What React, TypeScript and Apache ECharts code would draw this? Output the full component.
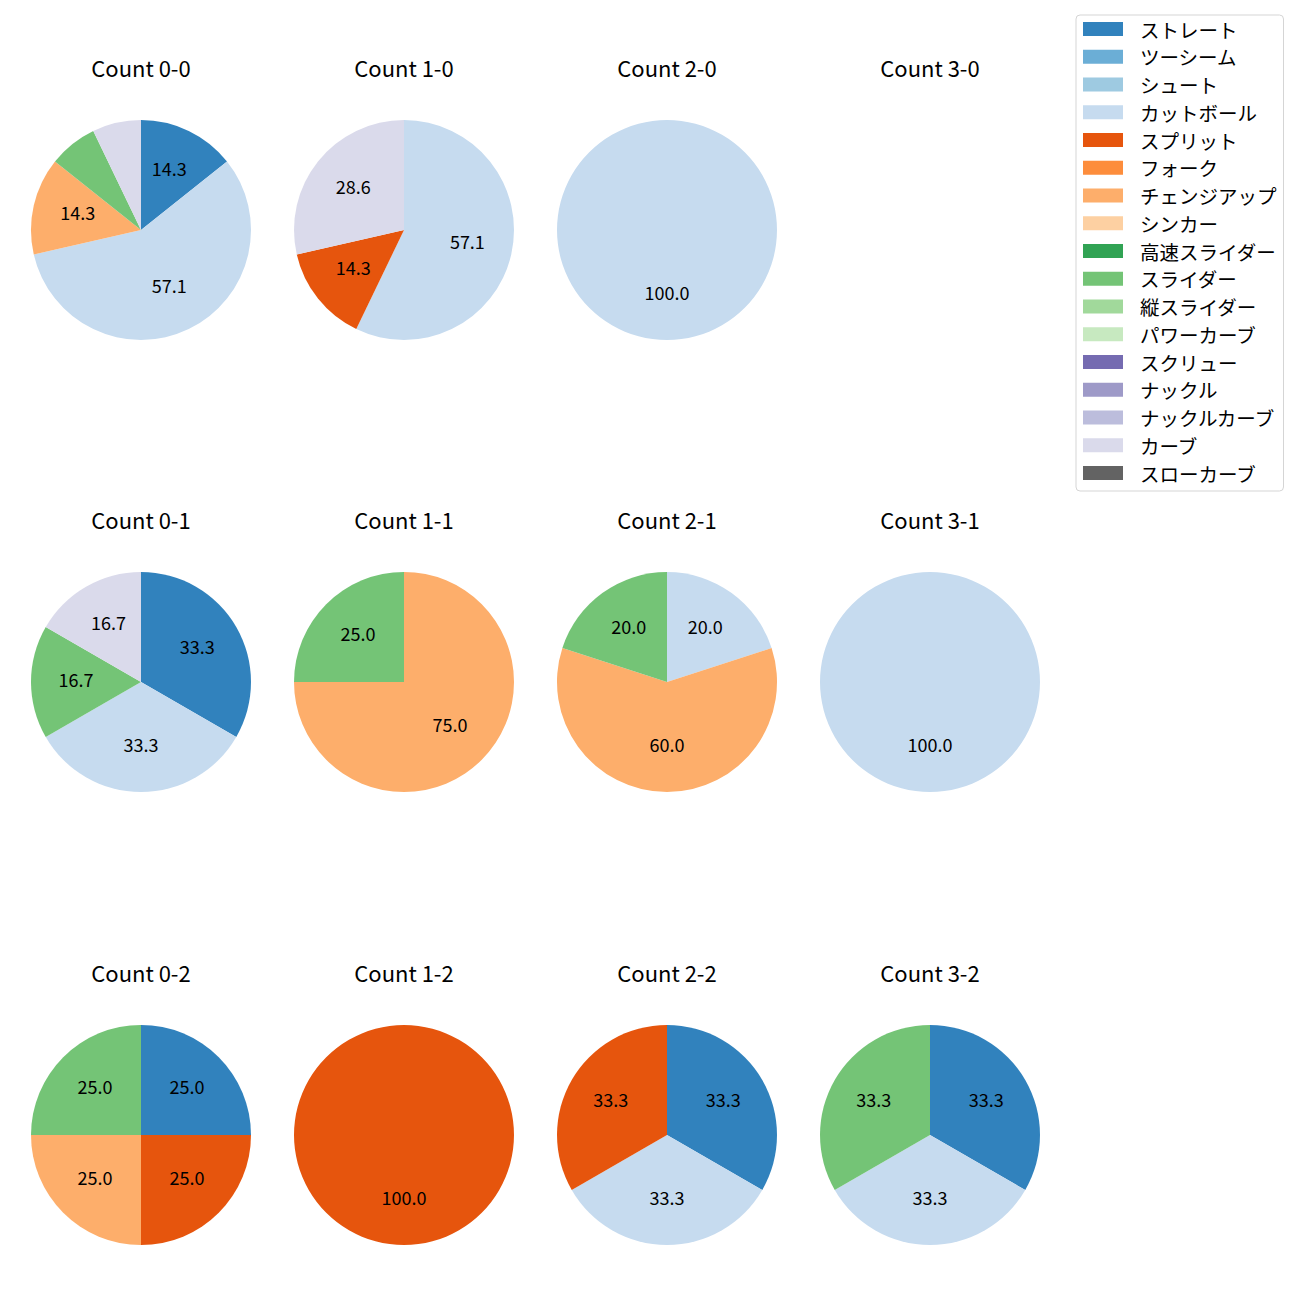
import React, { useEffect, useRef } from "react";
import * as echarts from "echarts";

const pitchTypes = [
  "ストレート", "ツーシーム", "シュート", "カットボール", "スプリット", "フォーク",
  "チェンジアップ", "シンカー", "高速スライダー", "スライダー", "縦スライダー",
  "パワーカーブ", "スクリュー", "ナックル", "ナックルカーブ", "カーブ", "スローカーブ",
];
const pitchColors = [
  "#3182bd", "#6baed6", "#9ecae1", "#c6dbef", "#e6550d", "#fd8d3c",
  "#fdae6b", "#fdd0a2", "#31a354", "#74c476", "#a1d99b",
  "#c7e9c0", "#756bb1", "#9e9ac8", "#bcbddc", "#dadaeb", "#636363",
];

// counts per pitch type (same order as pitchTypes)
const count00 = [2, 0, 0, 8, 0, 0, 2, 0, 0, 1, 0, 0, 0, 0, 0, 1, 0];
const count10 = [0, 0, 0, 4, 1, 0, 0, 0, 0, 0, 0, 0, 0, 0, 0, 2, 0];
const count20 = [0, 0, 0, 1, 0, 0, 0, 0, 0, 0, 0, 0, 0, 0, 0, 0, 0];
const count30 = [0, 0, 0, 0, 0, 0, 0, 0, 0, 0, 0, 0, 0, 0, 0, 0, 0];
const count01 = [2, 0, 0, 2, 0, 0, 0, 0, 0, 1, 0, 0, 0, 0, 0, 1, 0];
const count11 = [0, 0, 0, 0, 0, 0, 3, 0, 0, 1, 0, 0, 0, 0, 0, 0, 0];
const count21 = [0, 0, 0, 1, 0, 0, 3, 0, 0, 1, 0, 0, 0, 0, 0, 0, 0];
const count31 = [0, 0, 0, 1, 0, 0, 0, 0, 0, 0, 0, 0, 0, 0, 0, 0, 0];
const count02 = [1, 0, 0, 0, 1, 0, 1, 0, 0, 1, 0, 0, 0, 0, 0, 0, 0];
const count12 = [0, 0, 0, 0, 1, 0, 0, 0, 0, 0, 0, 0, 0, 0, 0, 0, 0];
const count22 = [1, 0, 0, 1, 1, 0, 0, 0, 0, 0, 0, 0, 0, 0, 0, 0, 0];
const count32 = [1, 0, 0, 1, 0, 0, 0, 0, 0, 1, 0, 0, 0, 0, 0, 0, 0];

const cells = [
  { title: "Count 0-0", counts: count00, col: 0, row: 0 },
  { title: "Count 1-0", counts: count10, col: 1, row: 0 },
  { title: "Count 2-0", counts: count20, col: 2, row: 0 },
  { title: "Count 3-0", counts: count30, col: 3, row: 0 },
  { title: "Count 0-1", counts: count01, col: 0, row: 1 },
  { title: "Count 1-1", counts: count11, col: 1, row: 1 },
  { title: "Count 2-1", counts: count21, col: 2, row: 1 },
  { title: "Count 3-1", counts: count31, col: 3, row: 1 },
  { title: "Count 0-2", counts: count02, col: 0, row: 2 },
  { title: "Count 1-2", counts: count12, col: 1, row: 2 },
  { title: "Count 2-2", counts: count22, col: 2, row: 2 },
  { title: "Count 3-2", counts: count32, col: 3, row: 2 },
];

const FONT = "'Noto Sans CJK JP', 'Noto Sans', sans-serif";
const colX = [141, 404, 667, 930];
const rowY = [230, 682, 1135];
const R = 110;

export default function App() {
  const ref = useRef<HTMLDivElement>(null);
  useEffect(() => {
    document.body.style.margin = "0";
    const chart = echarts.init(ref.current!, null, { renderer: "svg" });
    const titles: any[] = [];
    const series: any[] = [];
    cells.forEach((c) => {
      const cx = colX[c.col];
      const cy = rowY[c.row];
      titles.push({
        text: c.title,
        left: cx,
        top: cy - 163.5,
        padding: 0,
        textAlign: "center",
        textVerticalAlign: "middle",
        textStyle: { fontFamily: FONT, fontSize: 22, fontWeight: "normal", color: "#000" },
      });
      const total = c.counts.reduce((a, b) => a + b, 0);
      if (total === 0) return;
      const data = c.counts
        .map((v, i) => ({ name: pitchTypes[i], value: v, itemStyle: { color: pitchColors[i] } }))
        .filter((d) => d.value > 0);
      series.push({
        type: "pie",
        center: [cx, cy],
        radius: [0, R],
        startAngle: 90,
        clockwise: true,
        label: { show: false },
        labelLine: { show: false },
        emphasis: { disabled: true },
        data,
      });
      series.push({
        type: "pie",
        center: [cx, cy - 3.5],
        radius: [14, R],
        startAngle: 90,
        clockwise: true,
        silent: true,
        itemStyle: { color: "transparent" },
        labelLine: { show: false },
        emphasis: { disabled: true },
        label: {
          show: true,
          position: "inside",
          fontFamily: FONT,
          fontSize: 18,
          color: "#000",
          formatter: (p: any) => {
            const pct = (p.value / total) * 100;
            return pct >= 10 ? pct.toFixed(1) : "";
          },
        },
        data: data.map((d) => ({ name: d.name, value: d.value, itemStyle: { color: "transparent" } })),
      });
    });
    // legend provider
    series.push({
      type: "pie",
      center: [-200, -200],
      radius: [0, 1],
      silent: true,
      label: { show: false },
      labelLine: { show: false },
      data: pitchTypes.map((n, i) => ({ name: n, value: 1, itemStyle: { color: pitchColors[i] } })),
    });
    chart.setOption({
      animation: false,
      backgroundColor: "#fff",
      title: titles,
      legend: {
        orient: "vertical",
        left: 1076,
        top: 15,
        data: pitchTypes,
        icon: "rect",
        itemWidth: 40,
        itemHeight: 14,
        itemGap: 8.25,
        padding: [4.25, 7, 8.25, 7],
        borderColor: "#d5d5d5",
        borderWidth: 1,
        borderRadius: 4,
        selectedMode: false,
        textStyle: {
          fontFamily: FONT,
          fontSize: 19.5,
          color: "#000",
          padding: [0, 0, 0, 12],
        },
      },
      series,
    });
    return () => chart.dispose();
  }, []);
  return <div ref={ref} style={{ width: 1300, height: 1300 }} />;
}
